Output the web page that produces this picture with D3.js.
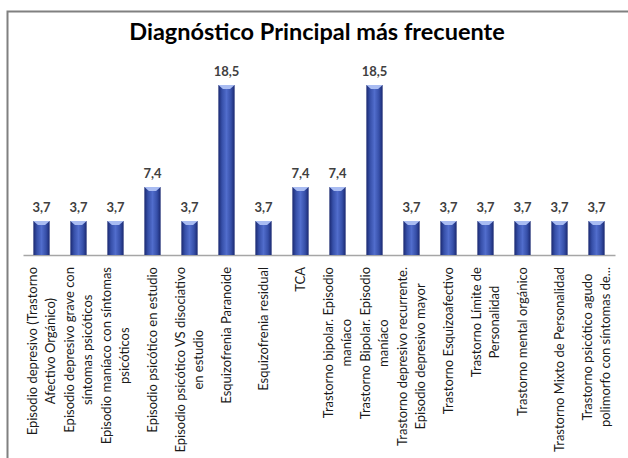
<!DOCTYPE html>
<html>
<head>
<meta charset="utf-8">
<script src="https://cdn.jsdelivr.net/npm/d3@7"></script>
<style>
  body { margin: 0; background: #fff; }
  svg { display: block; }
</style>
</head>
<body>
<div id="chart"></div>
<script>
const categories = [
  "Episodio depresivo (Trastorno\nAfectivo Orgánico)",
  "Episodio depresivo grave con\nsíntomas psicóticos",
  "Episodio maníaco con síntomas\npsicóticos",
  "Episodio psicótico en estudio",
  "Episodio psicótico VS disociativo\nen estudio",
  "Esquizofrenia Paranoide",
  "Esquizofrenia residual",
  "TCA",
  "Trastorno bipolar. Episodio\nmaníaco",
  "Trastorno Bipolar. Episodio\nmaníaco",
  "Trastorno depresivo recurrente.\nEpisodio depresivo mayor",
  "Trastorno Esquizoafectivo",
  "Trastorno Límite de\nPersonalidad",
  "Trastorno mental orgánico",
  "Trastorno Mixto de Personalidad",
  "Trastorno psicótico agudo\npolimorfo con síntomas de..."
]
const values = [3.7, 3.7, 3.7, 7.4, 3.7, 18.5, 3.7, 7.4, 7.4, 18.5, 3.7, 3.7, 3.7, 3.7, 3.7, 3.7]
const title = "Diagnóstico Principal más frecuente"

const data = categories.map((c, i) => ({ name: c, value: values[i] }))

const W = 628, H = 458
const baseY = 255, topY = 85

const svg = d3.select("#chart").append("svg")
  .attr("width", W)
  .attr("height", H)

// chart frame (only top/left edges visible in the crop)
svg.append("rect")
  .attr("x", 7.5).attr("y", 11.5)
  .attr("width", 700).attr("height", 600)
  .attr("fill", "none")
  .attr("stroke", "#808080")
  .attr("stroke-width", 2)

let x = d3.scaleBand()
  .domain(categories)
  .range([23, 615])
  .paddingInner(0.56)
  .paddingOuter(0.28)

let y = d3.scaleLinear()
  .domain([0, d3.max(values)])
  .range([baseY, topY])

const defs = svg.append("defs")
const grad = defs.append("linearGradient").attr("id", "barGrad")
  .attr("x1", "0%").attr("x2", "100%").attr("y1", "0%").attr("y2", "0%")
grad.append("stop").attr("offset", "0%").attr("stop-color", "#1a2870")
grad.append("stop").attr("offset", "22%").attr("stop-color", "#364fa8")
grad.append("stop").attr("offset", "50%").attr("stop-color", "#516dcc")
grad.append("stop").attr("offset", "78%").attr("stop-color", "#364fa8")
grad.append("stop").attr("offset", "100%").attr("stop-color", "#1a2870")

svg.append("text")
  .attr("x", 317)
  .attr("y", 40)
  .attr("text-anchor", "middle")
  .style("font-family", "Lato, 'Open Sans', sans-serif")
  .style("font-weight", "bold")
  .style("font-size", "23.5px")
  .style("fill", "#000")
  .text(title)

// axis line
svg.append("g")
  .attr("transform", "translate(0," + baseY + ")")
  .call(d3.axisBottom(x).tickSize(0).tickFormat(""))
  .call(g => g.select(".domain").attr("stroke", "#a6a6a6").attr("stroke-width", 1.5))

const bars = svg.selectAll(".bar")
  .data(data)
  .enter()
  .append("g")
  .attr("class", "bar")

bars.append("rect")
  .attr("x", d => x(d.name))
  .attr("y", d => y(d.value))
  .attr("width", x.bandwidth())
  .attr("height", d => baseY - y(d.value))
  .attr("fill", "url(#barGrad)")

// light top cap
bars.append("path")
  .attr("d", d => {
    const x0 = x(d.name), w = x.bandwidth(), t = y(d.value)
    return "M" + x0 + "," + t + "L" + (x0 + w) + "," + t +
      "L" + (x0 + w * 0.72) + "," + (t + 4) + "L" + (x0 + w * 0.28) + "," + (t + 4) + "Z"
  })
  .attr("fill", "#a9bcf2")

bars.append("text")
  .attr("x", d => x(d.name) + x.bandwidth() / 2)
  .attr("y", d => y(d.value) - 9)
  .attr("text-anchor", "middle")
  .style("font-family", "Lato, 'Open Sans', sans-serif")
  .style("font-weight", "bold")
  .style("font-size", "13px")
  .style("fill", "#404040")
  .text(d => d3.format(".1f")(d.value).replace(".", ","))

// rotated, wrapped category labels
const lineGap = 18
const labels = svg.selectAll(".cat")
  .data(data)
  .enter()
  .append("g")
  .attr("class", "cat")
  .attr("transform", d => "translate(" + (x(d.name) + x.bandwidth() / 2) + "," + 267 + ") rotate(-90)")

labels.each(function(d) {
  const g = d3.select(this)
  const lines = d.name.split("\n")
  const texts = lines.map((ln, i) => g.append("text")
    .attr("text-anchor", "middle")
    .attr("dy", "0.35em")
    .attr("y", (i - (lines.length - 1) / 2) * lineGap)
    .style("font-family", "Lato, 'Open Sans', sans-serif")
    .style("font-size", "13px")
    .style("fill", "#1a1a1a")
    .text(ln))
  const maxW = d3.max(texts, t => t.node().getComputedTextLength())
  texts.forEach(t => t.attr("x", -maxW / 2))
})
</script>
</body>
</html>
